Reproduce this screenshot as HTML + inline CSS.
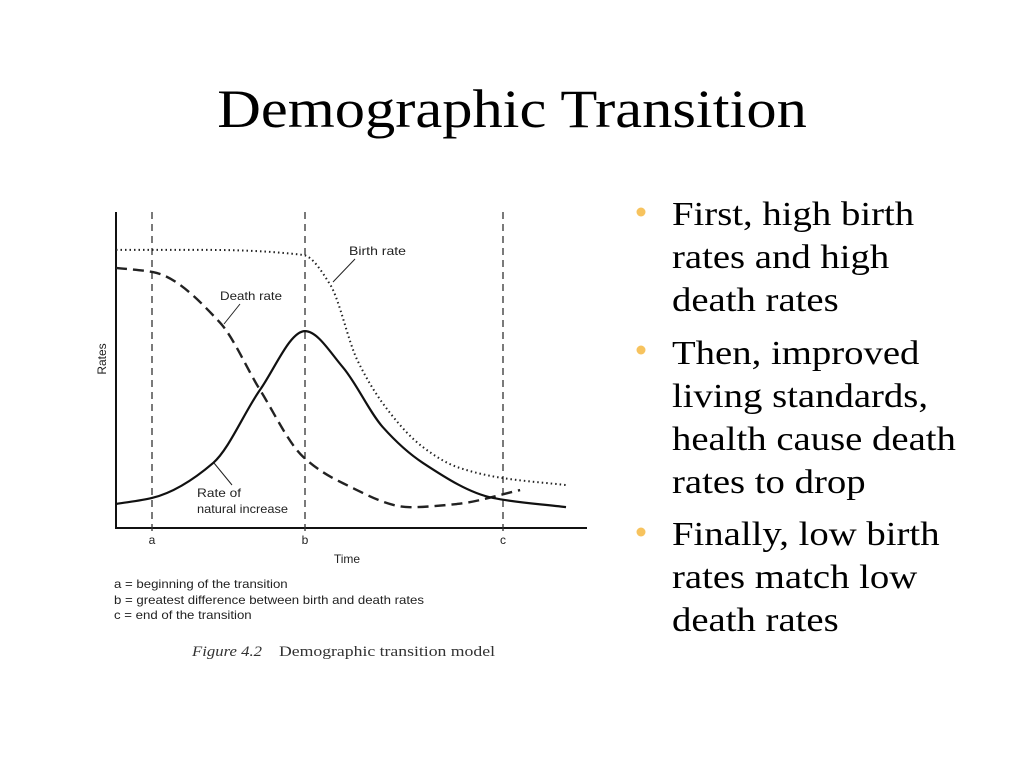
<!DOCTYPE html>
<html><head><meta charset="utf-8"><style>
html,body{margin:0;padding:0;background:#fff;}
svg{display:block;}
.serif{font-family:"Liberation Serif",serif;}
.sans{font-family:"Liberation Sans",sans-serif;}
</style></head><body>
<svg id="root" width="1024" height="768" viewBox="0 0 1024 768" xmlns="http://www.w3.org/2000/svg">
<g transform="translate(512,0) scale(1.12,1) translate(-512,0)">
<text class="serif" x="512" y="127" font-size="54" text-anchor="middle" fill="#000">Demographic Transition</text>
</g>

<circle cx="641" cy="212" r="4.5" fill="#f7c35e"/>
<circle cx="641" cy="350" r="4.5" fill="#f7c35e"/>
<circle cx="641" cy="532" r="4.5" fill="#f7c35e"/>
<g class="serif" font-size="34" fill="#000" transform="translate(672,0) scale(1.14,1) translate(-672,0)">
  <text x="672" y="225">First, high birth</text>
  <text x="672" y="268">rates and high</text>
  <text x="672" y="311">death rates</text>
  <text x="672" y="364">Then, improved</text>
  <text x="672" y="407">living standards,</text>
  <text x="672" y="450">health cause death</text>
  <text x="672" y="493">rates to drop</text>
  <text x="672" y="545">Finally, low birth</text>
  <text x="672" y="588">rates match low</text>
  <text x="672" y="631">death rates</text>
</g>

<g id="chart"></g>

<g class="sans" font-size="11.5" fill="#222" transform="translate(114,0) scale(1.15,1) translate(-114,0)">
  <text x="114" y="588">a = beginning of the transition</text>
  <text x="114" y="604">b = greatest difference between birth and death rates</text>
  <text x="114" y="619">c = end of the transition</text>
</g>
<g class="serif" font-size="15" fill="#333">
  <text x="192" y="656" font-style="italic" textLength="70" lengthAdjust="spacingAndGlyphs">Figure 4.2</text>
  <text x="279" y="656" textLength="216" lengthAdjust="spacingAndGlyphs">Demographic transition model</text>
</g>
</svg>
<script>
const birthT=[0,20,41.6,47.6,53.6,60.9,68.2,75.8,86,100];
const birthR=[88,88,86.4,77,53.2,36.4,25.6,19.3,15.8,13.6];
const deathT=[0,8.2,23.1,32,41.6,50.4,65.3,75.8,89.8];
const deathR=[82.3,81,65,43.7,22.5,14.2,6.6,7.6,12];
const natT=[0,8,21.6,32,42,50.4,59.3,68.2,83.8,100];
const natR=[7.6,9.5,20.6,43.7,62.3,50.9,31.9,20.6,9.5,6.6];
const markerT=[8,42,86];
const markerLabels=['a','b','c'];

const NS='http://www.w3.org/2000/svg';
const X0=116,X1=566,Y0=528,Y1=212;
const xs=t=>X0+t*(X1-X0)/100;
const ys=r=>Y0-r*(Y0-Y1)/100;
const g=document.getElementById('chart');
function mk(tag,attrs,parent){const e=document.createElementNS(NS,tag);for(const k in attrs)e.setAttribute(k,attrs[k]);(parent||g).appendChild(e);return e;}
function smooth(T,R){
  const n=T.length,dx=[],sl=[],m=[];
  for(let i=0;i<n-1;i++){dx.push(T[i+1]-T[i]);sl.push((R[i+1]-R[i])/dx[i]);}
  m[0]=sl[0];m[n-1]=sl[n-2];
  for(let i=1;i<n-1;i++){
    if(sl[i-1]*sl[i]<=0)m[i]=0;
    else{const w1=2*dx[i]+dx[i-1],w2=dx[i]+2*dx[i-1];m[i]=(w1+w2)/(w1/sl[i-1]+w2/sl[i]);}
  }
  let d='M'+xs(T[0])+','+ys(R[0]);
  for(let i=0;i<n-1;i++){
    const h=dx[i];
    const c1t=T[i]+h/3,c1r=R[i]+m[i]*h/3,c2t=T[i+1]-h/3,c2r=R[i+1]-m[i+1]*h/3;
    d+=' C'+xs(c1t)+','+ys(c1r)+' '+xs(c2t)+','+ys(c2r)+' '+xs(T[i+1])+','+ys(R[i+1]);
  }
  return d;
}
let ax=mk('line',{x1:116,y1:212,x2:116,y2:529,stroke:'#111','stroke-width':2});


ax=mk('line',{x1:115,y1:528,x2:587,y2:528,stroke:'#111','stroke-width':2});


markerT.forEach((t,i)=>{
  const l=mk('line',{x1:xs(t),y1:212,x2:xs(t),y2:531,stroke:'#333','stroke-width':1.3,'stroke-dasharray':'7,5'});
  
  
  const tx=mk('text',{x:xs(t),y:544,'font-family':'Liberation Sans, sans-serif','font-size':12,'text-anchor':'middle',fill:'#222'});
  tx.textContent=markerLabels[i];
  
  
});
let s=mk('path',{d:smooth(birthT,birthR),fill:'none',stroke:'#222','stroke-width':2,'stroke-dasharray':'1.5,3'});


s=mk('path',{d:smooth(deathT,deathR),fill:'none',stroke:'#222','stroke-width':2.4,'stroke-dasharray':'11,6'});


s=mk('path',{d:smooth(natT,natR),fill:'none',stroke:'#111','stroke-width':2.2});


function lab(x,y,txt,name,len){const t=mk('text',{x:x,y:y,'font-family':'Liberation Sans, sans-serif','font-size':12,fill:'#222',textLength:len,lengthAdjust:'spacingAndGlyphs'});t.textContent=txt;}
lab(349,255,'Birth rate','birth-rate-label',57);
lab(220,300,'Death rate','death-rate-label',62);
lab(197,497,'Rate of','natural-increase-label-1',44);
lab(197,513,'natural increase','natural-increase-label-2',91);
let ld=mk('line',{x1:355,y1:259,x2:333,y2:282,stroke:'#222','stroke-width':1});


ld=mk('line',{x1:240,y1:304,x2:224,y2:324,stroke:'#222','stroke-width':1});


ld=mk('line',{x1:232,y1:485,x2:214,y2:463,stroke:'#222','stroke-width':1});


const yt=mk('text',{x:0,y:0,transform:'translate(106,359) rotate(-90)','font-family':'Liberation Sans, sans-serif','font-size':12,'text-anchor':'middle',fill:'#222'});
yt.textContent='Rates';


const xt=mk('text',{x:347,y:563,'font-family':'Liberation Sans, sans-serif','font-size':12,'text-anchor':'middle',fill:'#222'});
xt.textContent='Time';


</script>
</body></html>
